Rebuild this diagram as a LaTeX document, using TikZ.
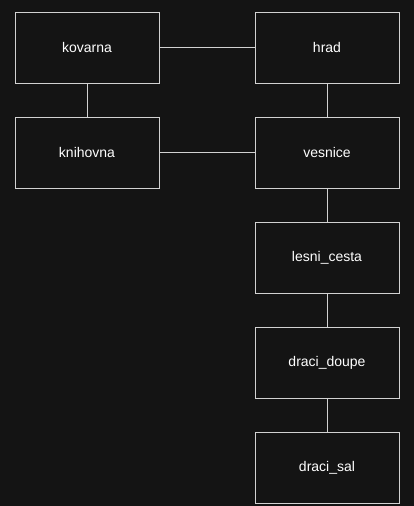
\documentclass[tikz,border=0pt]{standalone}
\usepackage{fontspec}
\setmainfont{Liberation Sans}
\usepackage{tikz}
\usetikzlibrary{positioning}
\definecolor{mybg}{RGB}{20,20,20}
\definecolor{myedge}{RGB}{210,210,210}
\definecolor{myfill}{RGB}{20,20,20}
\tikzset{
  room/.style={rectangle, draw=myedge, fill=myfill, text=white,
    minimum width=144pt, minimum height=71pt, inner sep=0pt, outer sep=0pt,
    font=\fontsize{14}{16}\selectfont, line width=0.9pt},
  link/.style={color=myedge, line width=0.9pt}
}
\begin{document}
\begin{tikzpicture}[x=1pt, y=1pt, node distance=34pt and 96pt]
  % background
  \fill[mybg] (0,0) rectangle (414,-506);
  \useasboundingbox (0,0) rectangle (414,-506);

  % rooms
  \node[room] (kovarna) at (87,-47.5) {kovarna};
  \node[room, right=of kovarna] (hrad) {hrad};
  \node[room, below=of kovarna] (knihovna) {knihovna};
  \node[room, below=of hrad] (vesnice) {vesnice};
  \node[room, below=of vesnice] (lesni) {lesni\_cesta};
  \node[room, below=of lesni] (doupe) {draci\_doupe};
  \node[room, below=of doupe] (sal) {draci\_sal};

  % paths
  \draw[link] (kovarna) -- (hrad);
  \draw[link] (kovarna) -- (knihovna);
  \draw[link] (hrad) -- (vesnice);
  \draw[link] (knihovna) -- (vesnice);
  \draw[link] (vesnice) -- (lesni);
  \draw[link] (lesni) -- (doupe);
  \draw[link] (doupe) -- (sal);
\end{tikzpicture}
\end{document}
